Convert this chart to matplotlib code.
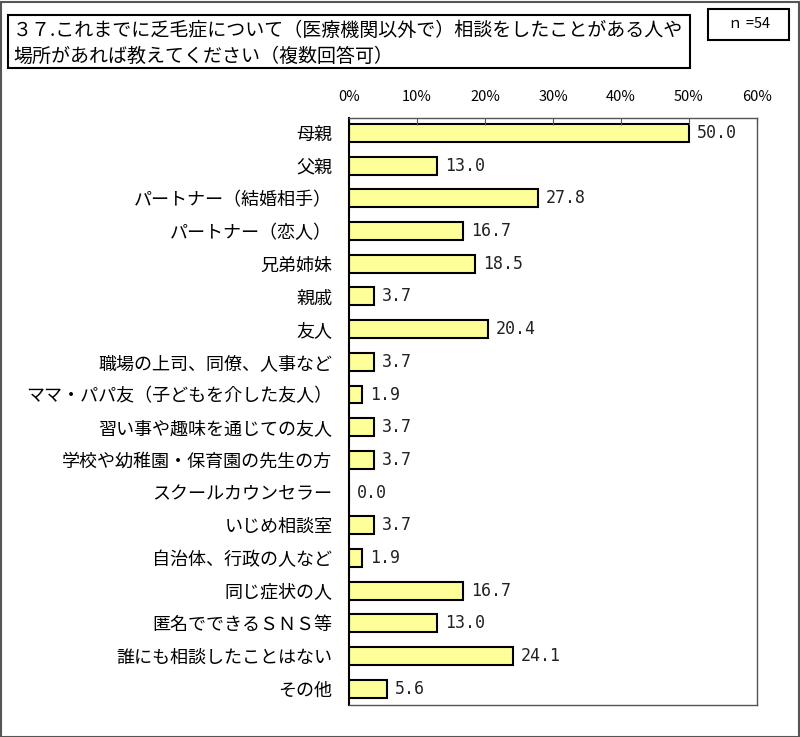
import matplotlib
matplotlib.use("Agg")
import matplotlib.pyplot as plt
from matplotlib.patches import Rectangle

plt.rcParams['font.family'] = ['Noto Sans CJK JP', 'DejaVu Sans']

categories = ["母親", "父親", "パートナー（結婚相手）", "パートナー（恋人）", "兄弟姉妹", "親戚", "友人",
              "職場の上司、同僚、人事など", "ママ・パパ友（子どもを介した友人）", "習い事や趣味を通じての友人",
              "学校や幼稚園・保育園の先生の方", "スクールカウンセラー", "いじめ相談室", "自治体、行政の人など",
              "同じ症状の人", "匿名でできるＳＮＳ等", "誰にも相談したことはない", "その他"]
values = [50.0, 13.0, 27.8, 16.7, 18.5, 3.7, 20.4, 3.7, 1.9, 3.7, 3.7, 0.0, 3.7, 1.9, 16.7, 13.0, 24.1, 5.6]
xticks = [0, 10, 20, 30, 40, 50, 60]
title = "３７.これまでに乏毛症について（医療機関以外で）相談をしたことがある人や\n場所があれば教えてください（複数回答可）"
n_label = "ｎ =54"

W, H = 800, 737
fig = plt.figure(figsize=(W/100, H/100), dpi=100)

# outer border
fig.patches.append(Rectangle((0.5/W, 0.5/H), 1-2/W, 1-2/H, transform=fig.transFigure,
                             fill=False, edgecolor='#555555', linewidth=1.5))

ax = fig.add_axes([349/W, 1-705/H, (757-349)/W, (705-118)/H])
y = list(range(len(categories)))
ax.barh(y, values, height=0.55, color='#FFFF99', edgecolor='black', linewidth=1.5)
ax.set_xlim(0, 60)
ax.set_ylim(len(categories)-1+0.5, -0.46)
ax.set_yticks(y)
ax.set_yticklabels(categories, fontsize=13)
ax.tick_params(axis='y', length=0, pad=12)
ax.xaxis.tick_top()
ax.set_xticks(xticks)
ax.set_xticklabels([f"{t}%" for t in xticks], fontsize=10.5)
ax.tick_params(axis='x', direction='in', length=5, pad=10, color='#555555')
for s in ax.spines.values():
    s.set_color('#555555')
    s.set_linewidth(1)
ax.spines['left'].set_color('black')
ax.spines['left'].set_linewidth(1.5)
for yi, v in zip(y, values):
    ax.text(v + 1.2, yi, f"{v:.1f}", va='center', ha='left', fontsize=12,
            family=['DejaVu Sans Mono'], color='#222222')

# title box
fig.patches.append(Rectangle((8/W, 1-68/H), (690-8)/W, (68-15)/H, transform=fig.transFigure,
                             fill=False, edgecolor='black', linewidth=1.5))
fig.text(13/W, 1-43/H, title, fontsize=13.7, va='center', ha='left', linespacing=1.3)

# n box
fig.patches.append(Rectangle((708/W, 1-40/H), (789-708)/W, (40-9)/H, transform=fig.transFigure,
                             fill=False, edgecolor='black', linewidth=1.5))
fig.text(749/W, 1-24/H, n_label, fontsize=10.5, va='center', ha='center')

fig.savefig("out.png", dpi=100)
